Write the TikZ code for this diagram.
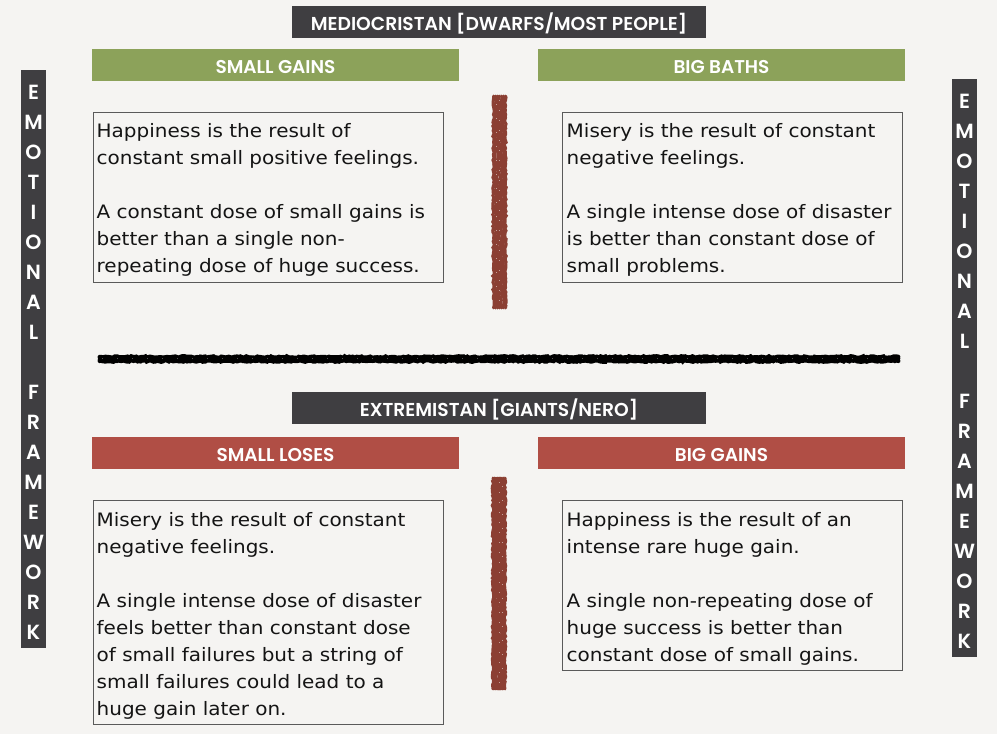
\documentclass[tikz,border=0pt]{standalone}
\usepackage{fontspec}
\usetikzlibrary{decorations.pathmorphing}
\newfontfamily\bodyfont{DejaVu Sans}[FakeStretch=1.08]
\newfontfamily\capsfont{Poppins SemiBold}
\definecolor{paper}{HTML}{F5F4F2}
\definecolor{slate}{HTML}{3F3E41}
\definecolor{moss}{HTML}{8CA25A}
\definecolor{brick}{HTML}{B04E45}
\definecolor{rust}{HTML}{8B3F33}
\definecolor{boxline}{HTML}{5A5A5A}

\begin{document}
\begin{tikzpicture}[x=1pt,y=-1pt,
  band/.style={inner sep=0pt, text=white, font=\capsfont\fontsize{18.5}{20}\selectfont,
    text height=17.5pt, text depth=0pt, minimum height=32pt, minimum width=367pt},
  header/.style={band, fill=slate, minimum width=414pt, text height=16.5pt,
    font=\capsfont\fontsize{18.7}{20}\selectfont},
  gainband/.style={band, fill=moss},
  lossband/.style={band, fill=brick},
  sidebar/.style={fill=slate, inner sep=0pt, minimum width=25pt, minimum height=578pt, anchor=north west},
  vletter/.style={text=white, inner sep=0pt, anchor=base, font=\capsfont\fontsize{20.5}{22}\selectfont},
  qbox/.style={draw=boxline, line width=1pt, inner sep=0pt, anchor=north west},
  qtext/.style={inner sep=0pt, anchor=north west, align=left,
    font=\bodyfont\fontsize{18.5}{27}\selectfont, text=black!92},
  chalk/.style={decorate, decoration={random steps, segment length=2pt, amplitude=0.8pt}, line cap=round},
]
% paper
\fill[paper] (0,0) rectangle (997,734);
\useasboundingbox (0,0) rectangle (997,734);
\pgfmathsetseed{11}

% headers
\node[header] (medio) at (499,22) {MEDIOCRISTAN [DWARFS/MOST PEOPLE]};
\node[header] (extr) at (499,408) {EXTREMISTAN [GIANTS/NERO]};

% category bands
\node[gainband] (smallgains) at (275.5,65) {SMALL GAINS};
\node[gainband] (bigbaths) at (721.5,65) {BIG BATHS};
\node[lossband] (smallloses) at (275.5,453) {SMALL LOSES};
\node[lossband] (biggains) at (721.5,453) {BIG GAINS};

% side bars with stacked letters
\node[sidebar] (leftbar) at (21,70) {};
\node[sidebar] (rightbar) at (952,79) {};
\foreach \ch [count=\i from 0] in {E,M,O,T,I,O,N,A,L} {
  \node[vletter] (la\i) at (33.5,99+30*\i) {\ch};
  \node[vletter] (ra\i) at (964.5,108+30*\i) {\ch};
}
\foreach \ch [count=\i from 10] in {F,R,A,M,E,W,O,R,K} {
  \node[vletter] (lb\i) at (33.5,99+30*\i) {\ch};
  \node[vletter] (rb\i) at (964.5,108+30*\i) {\ch};
}

% quadrant boxes
\node[qbox, minimum width=350pt, minimum height=170pt] (q1) at (93,112) {};
\node[qbox, minimum width=340pt, minimum height=170pt] (q2) at (562,112) {};
\node[qbox, minimum width=350pt, minimum height=224pt] (q3) at (93,500) {};
\node[qbox, minimum width=340pt, minimum height=170pt] (q4) at (562,500) {};

\node[qtext] (t1) at (96.5,122) {\rule{0pt}{15pt}Happiness is the result of\\
  constant small positive feelings.\\[27pt]
  A constant dose of small gains is\\
  better than a single non-\\
  repeating dose of huge success.};
\node[qtext] (t2) at (566.5,122) {\rule{0pt}{15pt}Misery is the result of constant\\
  negative feelings.\\[27pt]
  A single intense dose of disaster\\
  is better than constant dose of\\
  small problems.};
\node[qtext] (t3) at (96.5,511) {\rule{0pt}{15pt}Misery is the result of constant\\
  negative feelings.\\[27pt]
  A single intense dose of disaster\\
  feels better than constant dose\\
  of small failures but a string of\\
  small failures could lead to a\\
  huge gain later on.};
\node[qtext] (t4) at (566.5,511) {\rule{0pt}{15pt}Happiness is the result of an\\
  intense rare huge gain.\\[27pt]
  A single non-repeating dose of\\
  huge success is better than\\
  constant dose of small gains.};

% chalk dividers
\foreach \dx in {-6,-4,-2,0,2,4,6} {
  \draw[chalk, rust, line width=3pt] (499.5+\dx,96) -- (499.5+\dx,308);
  \draw[chalk, rust, line width=3pt] (499+\dx,478) -- (499+\dx,689);
}
\foreach \dy in {-2.6,-1.3,0,1.3,2.6}
  \draw[chalk, black, line width=3pt] (99,359+\dy) -- (899,359+\dy);
\draw[paper, opacity=0.55, line width=0.8pt, dash pattern=on 1pt off 9pt] (499.5,100) -- (499.5,305);
\draw[paper, opacity=0.55, line width=0.8pt, dash pattern=on 1pt off 13pt] (496,104) -- (496,300);
\draw[paper, opacity=0.55, line width=0.8pt, dash pattern=on 1pt off 9pt] (499,482) -- (499,686);
\draw[paper, opacity=0.55, line width=0.8pt, dash pattern=on 1pt off 13pt] (502,486) -- (502,680);
\draw[paper, opacity=0.35, line width=0.7pt, dash pattern=on 1pt off 14pt] (102,358) -- (896,358);
\end{tikzpicture}
\end{document}
